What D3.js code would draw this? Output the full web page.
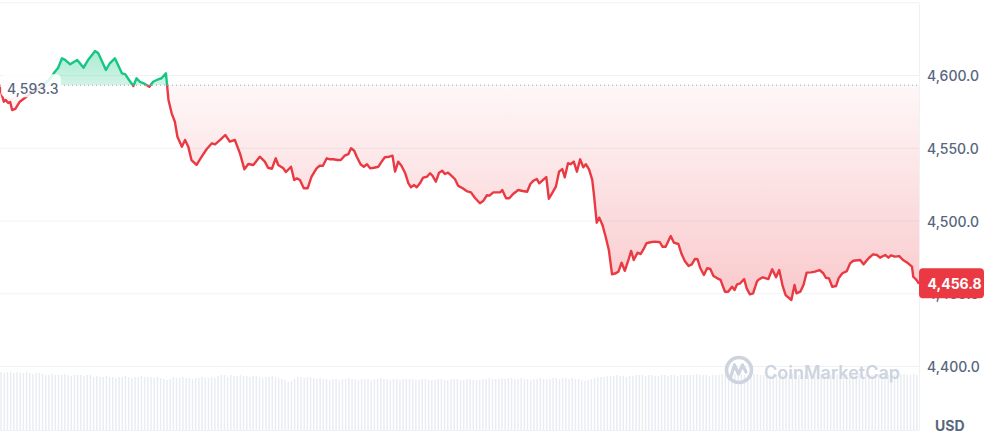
<!DOCTYPE html>
<html><head><meta charset="utf-8">
<script src="https://cdn.jsdelivr.net/npm/d3@7"></script>
<style>html,body{margin:0;padding:0;background:#fff;}svg{display:block;font-family:Inter,"Noto Sans",sans-serif;}</style>
</head><body><svg id="chart" width="990" height="434"></svg>
<script>
// time in minutes since start of the 24h window
const times = [0,3,6,9,13,16,19,24,31,47,63,78,86,91,97,102,110,121,131,138,149,154,166,172,180,191,196,203,209,214,219,227,234,240,248,253,260,264,269,274,278,285,290,295,300,308,316,324,332,337,345,353,360,368,376,383,389,397,407,415,420,426,432,436,444,448,456,461,465,470,476,482,488,496,501,506,512,517,522,529,534,540,546,550,555,559,565,570,575,580,586,593,598,603,610,615,619,624,629,635,640,644,649,653,658,663,669,674,678,683,688,693,697,702,708,713,718,725,731,738,744,752,757,763,767,773,784,787,793,798,804,812,819,826,831,836,841,845,851,856,860,865,871,876,881,885,890,894,899,904,909,914,918,923,928,931,935,939,944,949,954,959,965,969,974,979,985,989,993,999,1004,1009,1013,1019,1026,1034,1038,1043,1051,1056,1063,1068,1073,1079,1084,1089,1093,1097,1103,1108,1113,1118,1124,1129,1136,1141,1147,1151,1155,1160,1166,1170,1175,1180,1186,1188,1195,1204,1210,1216,1221,1226,1231,1240,1245,1248,1254,1259,1264,1271,1277,1284,1290,1294,1299,1304,1310,1314,1320,1327,1332,1337,1348,1353,1361,1368,1374,1379,1387,1392,1396,1402,1409,1415,1423,1429,1431,1436,1440];
const prices = [4592.3,4586.6,4582.0,4583.2,4581.1,4581.8,4576.3,4577.0,4582.0,4587.3,4591.4,4597.6,4602.6,4605.2,4611.8,4610.7,4607.7,4610.7,4605.4,4610.7,4616.8,4615.3,4603.8,4608.4,4611.8,4601.5,4601.0,4596.4,4592.8,4598.1,4595.7,4594.2,4592.3,4595.7,4597.4,4598.1,4601.5,4583.2,4574.0,4568.2,4557.9,4551.1,4555.7,4551.1,4541.9,4538.5,4544.2,4549.5,4553.4,4552.7,4555.7,4559.1,4554.5,4555.7,4546.5,4535.5,4539.2,4538.5,4544.2,4540.8,4536.6,4535.9,4543.1,4538.5,4536.2,4533.7,4537.3,4528.2,4529.3,4528.2,4522.5,4522.5,4530.4,4536.2,4538.0,4538.0,4543.1,4542.4,4542.4,4541.9,4541.9,4544.9,4546.0,4550.0,4548.3,4544.2,4539.0,4537.3,4539.0,4536.2,4536.6,4537.3,4540.8,4543.8,4544.2,4544.9,4533.9,4540.8,4538.0,4532.8,4525.9,4523.2,4524.7,4523.2,4525.9,4529.8,4530.4,4532.8,4530.9,4527.0,4533.2,4534.6,4532.3,4533.2,4530.9,4528.7,4524.1,4522.5,4520.6,4519.7,4516.0,4512.2,4513.7,4517.7,4517.4,4519.7,4519.7,4521.3,4515.6,4515.6,4518.6,4521.3,4520.6,4520.1,4525.4,4527.7,4528.9,4525.9,4528.2,4530.2,4515.3,4519.0,4523.6,4533.9,4535.7,4530.0,4539.7,4539.0,4540.8,4533.9,4542.4,4536.9,4539.0,4535.5,4528.2,4516.7,4498.8,4502.3,4497.3,4489.2,4480.1,4463.4,4464.1,4465.2,4471.3,4465.8,4473.7,4479.4,4473.2,4478.2,4477.3,4481.2,4484.7,4485.4,4485.8,4485.4,4482.3,4482.3,4489.7,4485.1,4484.2,4477.3,4472.5,4469.1,4470.2,4473.9,4473.7,4467.9,4462.9,4467.5,4467.0,4462.2,4460.6,4459.5,4451.4,4451.4,4454.8,4452.6,4456.5,4457.2,4460.1,4453.7,4449.6,4450.3,4458.3,4459.5,4461.3,4460.1,4466.8,4461.3,4466.3,4456.0,4449.1,4445.7,4456.0,4450.3,4451.4,4456.0,4464.5,4464.7,4465.2,4466.3,4464.1,4461.0,4460.6,4454.8,4455.3,4460.6,4464.1,4465.6,4470.9,4472.7,4473.2,4470.2,4474.4,4477.1,4476.6,4474.8,4476.6,4474.8,4476.4,4475.5,4475.9,4473.2,4470.9,4468.6,4461.7,4459.5,4456.8];
// 5-minute volume bars (arbitrary units)
const volumes = [
58,57,58,58,57,58,57,57,58,57,56,57,57,56,55,55,56,55,55,55,56,55,54,55,
55,55,54,55,55,53,54,53,53,54,53,53,52,53,53,54,53,52,53,53,54,53,53,53,
52,53,52,51,50,51,53,52,52,53,52,52,51,52,52,53,52,52,53,52,54,55,55,53,
55,54,54,55,54,54,53,54,54,53,52,53,53,54,53,52,51,50,48,49,51,53,53,52,
53,53,52,51,52,51,51,50,51,51,50,51,51,52,51,51,50,51,51,51,50,51,51,52,
51,51,50,51,51,50,51,51,51,51,50,50,51,51,50,50,50,51,51,50,50,51,51,51,
50,50,51,51,50,50,50,51,51,52,51,51,51,52,51,52,52,51,51,52,51,51,50,51,
51,52,51,51,51,52,52,51,52,52,51,52,51,51,50,49,50,51,52,53,53,53,54,54,
54,55,54,54,53,54,54,55,55,55,54,55,55,54,54,55,55,54,55,55,54,55,55,55,
55,55,56,55,55,55,54,55,55,55,56,55,55,55,56,55,56,55,55,55,56,56,55,55,
55,55,56,55,56,56,55,55,56,55,55,56,55,55,56,55,56,56,55,55,55,56,56,55,
55,56,56,55,55,56,55,56,55,55,56,56,55,56,55,55,56,55,56,56,55,55,56,55];
const baseline = 4593.3;
const lastPrice = 4456.8;
const yTicks = [4400, 4450, 4500, 4550, 4600, 4650];
const currency = "USD";
const watermark = "CoinMarketCap";

const RED = "#ea3943", GREEN = "#16c784";
const svg = d3.select("#chart");
const plotW = 919;
const x = d3.scaleLinear().domain([0, 1440]).range([0, plotW]);
const y = d3.scaleLinear().domain([4400, 4650]).range([366.5, 2.75]);
const vy = d3.scaleLinear().domain([0, 60]).range([430, 370]);
const fmt = d3.format(",.1f");
const data = times.map((t, i) => ({t, v: prices[i]}));
const by = y(baseline);

const defs = svg.append("defs");
const rg = defs.append("linearGradient").attr("id", "redGrad").attr("gradientUnits", "userSpaceOnUse")
  .attr("x1", 0).attr("x2", 0).attr("y1", by).attr("y2", y(d3.min(prices)));
rg.append("stop").attr("offset", 0).attr("stop-color", RED).attr("stop-opacity", 0.04);
rg.append("stop").attr("offset", 1).attr("stop-color", RED).attr("stop-opacity", 0.27);
const gg = defs.append("linearGradient").attr("id", "greenGrad").attr("gradientUnits", "userSpaceOnUse")
  .attr("x1", 0).attr("x2", 0).attr("y1", y(d3.max(prices))).attr("y2", by);
gg.append("stop").attr("offset", 0).attr("stop-color", GREEN).attr("stop-opacity", 0.36);
gg.append("stop").attr("offset", 1).attr("stop-color", GREEN).attr("stop-opacity", 0.2);
defs.append("clipPath").attr("id", "above").append("rect").attr("x", 0).attr("y", 0).attr("width", plotW).attr("height", by);
defs.append("clipPath").attr("id", "below").append("rect").attr("x", 0).attr("y", by).attr("width", plotW).attr("height", 434 - by);

// gridlines
svg.append("g").selectAll("line").data(yTicks).join("line")
  .attr("x1", 0).attr("x2", plotW).attr("y1", d => y(d)).attr("y2", d => y(d))
  .attr("stroke", "#eff2f5").attr("stroke-width", 1);
svg.append("line").attr("x1", plotW + 0.5).attr("x2", plotW + 0.5).attr("y1", y(4650)).attr("y2", 430)
  .attr("stroke", "#eff2f5");
svg.append("line").attr("x1", 0).attr("x2", plotW).attr("y1", 430.5).attr("y2", 430.5).attr("stroke", "#eff2f5");

// volume bars
svg.append("g").selectAll("rect").data(volumes).join("rect")
  .attr("x", (d, i) => x(i * 5) + 0.3).attr("width", 1.5)
  .attr("y", d => vy(d)).attr("height", d => 430 - vy(d))
  .attr("fill", "#e9edf2");

// watermark
const wm = svg.append("g");
wm.append("circle").attr("cx", 739).attr("cy", 370).attr("r", 12.5).attr("fill", "none").attr("stroke", "#cdd4df").attr("stroke-width", 3.6);
wm.append("path").attr("d", "M731,376 L734.5,365 L738.5,374 L742.5,365 L746,372").attr("fill", "none")
  .attr("stroke", "#cdd4df").attr("stroke-width", 3.2).attr("stroke-linejoin", "round").attr("stroke-linecap", "round");
wm.append("text").attr("x", 764).attr("y", 372).attr("dominant-baseline", "central")
  .attr("font-size", 18).attr("font-weight", 600).attr("fill", "#cdd4df").text(watermark);

// areas
const area = d3.area().x(d => x(d.t)).y0(by).y1(d => y(d.v));
svg.append("path").datum(data).attr("d", area).attr("fill", "url(#greenGrad)").attr("clip-path", "url(#above)");
svg.append("path").datum(data).attr("d", area).attr("fill", "url(#redGrad)").attr("clip-path", "url(#below)");

// baseline dotted
svg.append("line").attr("x1", 0).attr("x2", plotW).attr("y1", by).attr("y2", by)
  .attr("stroke", "#9aa3b0").attr("stroke-width", 1).attr("stroke-dasharray", "1,3");

// lines
const line = d3.line().x(d => x(d.t)).y(d => y(d.v));
svg.append("path").datum(data).attr("d", line).attr("fill", "none").attr("stroke", GREEN).attr("stroke-width", 2.4)
  .attr("stroke-linejoin", "round").attr("clip-path", "url(#above)");
svg.append("path").datum(data).attr("d", line).attr("fill", "none").attr("stroke", RED).attr("stroke-width", 2.4)
  .attr("stroke-linejoin", "round").attr("clip-path", "url(#below)");

// baseline label
svg.append("rect").attr("x", 1).attr("y", by - 11).attr("width", 60).attr("height", 23).attr("rx", 5)
  .attr("fill", "#fff").attr("fill-opacity", 0.85);
svg.append("text").attr("x", 7).attr("y", by + 3).attr("dominant-baseline", "central")
  .attr("font-size", 14).attr("font-weight", 500).attr("fill", "#58667e").text(fmt(baseline));

// y axis labels
svg.append("g").selectAll("text").data(yTicks.filter(d => d < 4650)).join("text")
  .attr("x", 927).attr("y", d => y(d)).attr("dominant-baseline", "central")
  .attr("font-size", 14).attr("font-weight", 500).attr("fill", "#58667e").text(d => fmt(d));

// current price label
const ly = y(lastPrice);
svg.append("rect").attr("x", plotW).attr("y", ly - 15.5).attr("width", 65).attr("height", 30).attr("rx", 4).attr("fill", RED);
svg.append("text").attr("x", 927.5).attr("y", ly).attr("dominant-baseline", "central")
  .attr("font-size", 14).attr("font-weight", 700).attr("fill", "#fff").text(fmt(lastPrice));

svg.append("text").attr("x", 935).attr("y", 425).attr("dominant-baseline", "central")
  .attr("font-size", 14).attr("font-weight", 700).attr("fill", "#58667e").text(currency);
</script></body></html>
